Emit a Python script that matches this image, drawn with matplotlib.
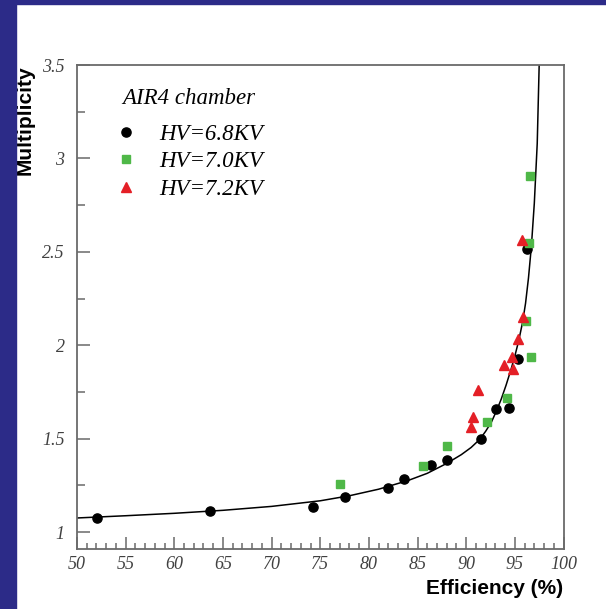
import matplotlib
matplotlib.use("Agg")
import matplotlib.pyplot as plt
from matplotlib.patches import Rectangle
from matplotlib.font_manager import FontProperties
from matplotlib.ticker import MultipleLocator, FixedLocator

# ---- data ----
eff_68 = [52.1, 63.7, 74.3, 77.5, 82.0, 83.6, 86.35, 88.05, 91.5, 93.1, 94.45, 95.3, 96.3]
mul_68 = [1.076, 1.114, 1.136, 1.187, 1.234, 1.287, 1.360, 1.388, 1.498, 1.658, 1.664, 1.928, 2.518]

eff_70 = [77.05, 85.6, 88.05, 92.15, 94.2, 96.65, 96.1, 96.45, 96.55]
mul_70 = [1.257, 1.352, 1.460, 1.588, 1.718, 1.939, 2.128, 2.549, 2.908]

eff_72 = [90.45, 90.67, 91.25, 93.84, 94.66, 94.76, 95.3, 95.86, 95.75]
mul_72 = [1.565, 1.617, 1.762, 1.893, 1.938, 1.875, 2.032, 2.150, 2.562]

# fitted curve, points
fit_eff = [50, 55, 60, 65, 70, 75, 78, 81, 84, 86, 88, 89.5, 90.5, 91.4, 92.0, 92.6,
           93.1, 93.6, 94.1, 94.6, 95.0, 95.4, 95.8, 96.1, 96.4, 96.7, 97.0, 97.3, 97.5]
fit_mul = [1.076, 1.088, 1.101, 1.117, 1.138, 1.168, 1.195, 1.230, 1.276, 1.315, 1.368,
           1.415, 1.453, 1.497, 1.540, 1.590, 1.648, 1.712, 1.787, 1.870, 1.943, 2.025,
           2.125, 2.225, 2.360, 2.530, 2.760, 3.080, 3.500]

labels = ["HV=6.8KV", "HV=7.0KV", "HV=7.2KV"]
legend_title = "AIR4 chamber"
x_ticks = [50, 55, 60, 65, 70, 75, 80, 85, 90, 95, 100]
x_tick_labels = ["50", "55", "60", "65", "70", "75", "80", "85", "90", "95", "100"]
y_ticks = [1, 1.5, 2, 2.5, 3, 3.5]
y_tick_labels = ["1", "1.5", "2", "2.5", "3", "3.5"]

W, H = 606, 609
fig = plt.figure(figsize=(W / 100, H / 100), dpi=100)
fig.patch.set_facecolor("white")
blue = "#2c2b88"
fig.patches.append(Rectangle((0, 0), 16 / W, 1, transform=fig.transFigure, color=blue, zorder=0))
fig.patches.append(Rectangle((0, 1 - 4 / H), 1, 4 / H, transform=fig.transFigure, color=blue, zorder=0))

left, right, top, bottom = 77, 563.5, 65, 549
ax = fig.add_axes([left / W, 1 - bottom / H, (right - left) / W, (bottom - top) / H])
ax.set_xlim(50, 100)
ax.set_ylim(0.91, 3.5)

ax.plot(fit_eff, fit_mul, color="black", lw=1.1, zorder=2, label="_nolegend_")
ax.plot(eff_68, mul_68, "o", color="black", ms=6.6, ls="none", zorder=3, label=labels[0])
ax.plot(eff_70, mul_70, "s", color="#4fb848", ms=6.0, ls="none", zorder=3, label=labels[1])
ax.plot(eff_72, mul_72, "^", color="#e41f26", ms=6.6, ls="none", zorder=4, label=labels[2])

spine_col = "#6a6a6a"
for s in ax.spines.values():
    s.set_color(spine_col)
    s.set_linewidth(1.3)

tick_font = FontProperties(family="Liberation Serif", style="italic", size=13)
ax.xaxis.set_major_locator(FixedLocator(x_ticks))
ax.set_xticklabels(x_tick_labels)
ax.xaxis.set_minor_locator(MultipleLocator(1))
ax.yaxis.set_major_locator(FixedLocator(y_ticks))
ax.set_yticklabels(y_tick_labels)
ax.yaxis.set_minor_locator(MultipleLocator(0.25))
ax.tick_params(axis="both", which="both", direction="in", color=spine_col, width=1.1,
               top=False, right=False)
ax.tick_params(axis="x", which="major", length=9, pad=5)
ax.tick_params(axis="x", which="minor", length=4)
ax.tick_params(axis="y", which="major", length=9, pad=9)
ax.tick_params(axis="y", which="minor", length=6)
for lab in ax.get_xticklabels() + ax.get_yticklabels():
    lab.set_fontproperties(tick_font)
    lab.set_color("#404040")

lab_font = FontProperties(family="Liberation Sans", weight="bold", size=15)
ax.set_xlabel("Efficiency (%)", fontproperties=lab_font, loc="right", labelpad=4)
ax.set_ylabel("Multiplicity", fontproperties=lab_font, loc="top")
ax.yaxis.set_label_coords(-0.088, 1.0)

leg_font = FontProperties(family="Liberation Serif", style="italic", size=16.5)
leg = ax.legend(title=legend_title, loc="upper left", bbox_to_anchor=(0.079, 0.953),
                frameon=False, prop=leg_font, title_fontproperties=leg_font,
                handlelength=0.95, handletextpad=0.95, labelspacing=0.27,
                borderaxespad=0, borderpad=0)
leg._legend_box.sep = 11

fig.savefig("out.png", dpi=100)
